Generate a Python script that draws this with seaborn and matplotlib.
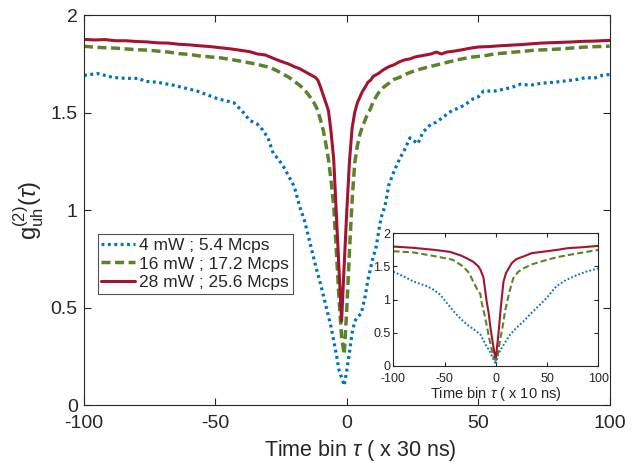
import matplotlib
matplotlib.use("Agg")
import matplotlib.pyplot as plt
import seaborn as sns

sns.set_theme(style="white")
plt.rcParams['font.family'] = ['Liberation Sans', 'DejaVu Sans']
plt.rcParams['mathtext.fontset'] = 'custom'
plt.rcParams['mathtext.rm'] = 'Liberation Sans'
plt.rcParams['mathtext.it'] = 'Liberation Sans:italic'

# ---- main data (time bin x 30 ns) ----
red_x = [-100, -96, -92, -88, -84, -80, -76, -72, -68, -64, -60, -56, -52, -48, -44, -40, -37, -34, -31, -28,
         -25, -22, -20, -18, -16, -14, -12, -11, -10, -9, -8, -7, -6, -5, -4, -3, -2, -1, 0, 1,
         2, 3, 4, 5, 6, 7, 8, 9, 10, 12, 14, 16, 18, 20, 22, 24, 26, 28, 30, 32,
         34, 36, 38, 41, 44, 47, 50, 54, 58, 62, 66, 70, 74, 78, 82, 86, 90, 94, 97, 100]
red_y = [1.875, 1.872, 1.874, 1.868, 1.868, 1.864, 1.862, 1.857, 1.856, 1.850, 1.847, 1.842, 1.838, 1.832, 1.826, 1.818, 1.812, 1.80, 1.795, 1.778,
         1.762, 1.748, 1.735, 1.725, 1.71, 1.695, 1.68, 1.665, 1.63, 1.59, 1.55, 1.51, 1.40, 1.26, 0.98, 0.70, 0.43, 0.72, 1.0, 1.25,
         1.42, 1.50, 1.55, 1.58, 1.61, 1.63, 1.655, 1.665, 1.685, 1.70, 1.72, 1.735, 1.745, 1.76, 1.77, 1.775, 1.785, 1.79, 1.795, 1.80,
         1.81, 1.80, 1.81, 1.815, 1.822, 1.83, 1.836, 1.838, 1.842, 1.845, 1.848, 1.852, 1.856, 1.858, 1.860, 1.862, 1.865, 1.866, 1.868, 1.87]

green_x = [-100, -96, -92, -88, -84, -80, -76, -72, -68, -64, -60, -56, -52, -48, -44, -40, -36, -32, -29, -26,
           -24, -22, -20, -18, -16, -14, -12.5, -11, -10, -9, -8, -7, -6, -5, -4, -3, -2, -1, 0, 1,
           2, 3, 4, 5, 6, 7.5, 9, 10, 12, 14, 16, 18, 20, 23, 26, 30, 33, 36, 39, 42,
           45, 48, 52, 56, 60, 64, 68, 72, 76, 80, 85, 90, 95, 100]
green_y = [1.84, 1.835, 1.832, 1.83, 1.826, 1.822, 1.82, 1.815, 1.81, 1.802, 1.798, 1.79, 1.785, 1.78, 1.772, 1.762, 1.752, 1.74, 1.73, 1.71,
           1.695, 1.68, 1.66, 1.64, 1.615, 1.58, 1.55, 1.51, 1.46, 1.41, 1.34, 1.26, 1.15, 1.02, 0.79, 0.55, 0.35, 0.26, 0.50, 0.79,
           1.05, 1.24, 1.33, 1.39, 1.43, 1.48, 1.52, 1.555, 1.60, 1.63, 1.65, 1.67, 1.68, 1.70, 1.715, 1.73, 1.74, 1.75, 1.76, 1.77,
           1.778, 1.785, 1.79, 1.80, 1.805, 1.81, 1.815, 1.82, 1.822, 1.825, 1.83, 1.835, 1.838, 1.84]

blue_x = [-100, -95, -89, -84, -79, -77, -72, -70, -66, -63, -60, -57, -53, -49, -46, -43, -40, -37, -34, -32,
          -30, -28, -26, -24, -22, -20, -18, -16, -14, -12, -10, -8, -6, -4, -3, -1, 0, 1, 2, 3,
          4, 5.5, 7, 8, 10, 11, 13, 14.5, 16, 18, 20, 22, 24, 26, 27, 29, 32, 34, 37, 40,
          42, 45, 48, 50, 52, 56, 60, 63, 66, 70, 74, 79, 82, 85, 88, 91, 94, 97, 100]
blue_y = [1.69, 1.70, 1.68, 1.675, 1.675, 1.66, 1.655, 1.65, 1.64, 1.63, 1.62, 1.61, 1.59, 1.57, 1.56, 1.55, 1.51, 1.46, 1.44, 1.41,
          1.37, 1.29, 1.26, 1.22, 1.17, 1.12, 1.02, 0.94, 0.83, 0.72, 0.62, 0.51, 0.40, 0.26, 0.18, 0.10, 0.18, 0.27, 0.37, 0.43,
          0.45, 0.47, 0.56, 0.64, 0.76, 0.80, 0.96, 1.02, 1.13, 1.20, 1.26, 1.31, 1.37, 1.35, 1.34, 1.40, 1.44, 1.45, 1.48, 1.51,
          1.52, 1.54, 1.57, 1.58, 1.61, 1.61, 1.62, 1.63, 1.645, 1.64, 1.65, 1.655, 1.66, 1.665, 1.67, 1.68, 1.675, 1.69, 1.695]

# ---- inset data (time bin x 10 ns) ----
ired_x = [-100, -80, -60, -45, -35, -28, -22, -17, -15, -12, -9, -7, -5, -3, -1, 0, 1, 2.5, 5, 7.5,
          10, 15.6, 20, 27, 35, 50, 60, 70, 85, 100]
ired_y = [1.80, 1.78, 1.75, 1.72, 1.67, 1.62, 1.57, 1.50, 1.45, 1.33, 0.98, 0.80, 0.55, 0.35, 0.16, 0.12, 0.25, 0.47, 0.90, 1.27,
          1.40, 1.55, 1.61, 1.65, 1.70, 1.73, 1.75, 1.775, 1.79, 1.81]

igreen_x = [-100, -80, -58, -42, -32, -26, -22, -18, -15, -14, -11, -9, -6, -4, -2, 0, 2, 4, 7, 9,
            13, 17, 22, 27, 35, 50, 60, 70, 85, 100]
igreen_y = [1.73, 1.71, 1.65, 1.60, 1.50, 1.40, 1.27, 1.15, 1.08, 0.97, 0.77, 0.62, 0.38, 0.25, 0.12, 0.08, 0.18, 0.37, 0.62, 0.82,
            1.10, 1.32, 1.42, 1.47, 1.53, 1.60, 1.64, 1.67, 1.71, 1.75]

iblue_x = [-100, -90, -80, -67, -60, -54, -48, -41, -35, -28, -19, -15, -10, -6, -3, 0, 2, 4, 9, 14,
           20, 27, 35, 43, 50, 59, 67, 76, 88, 100]
iblue_y = [1.42, 1.35, 1.27, 1.20, 1.14, 1.07, 0.95, 0.82, 0.72, 0.62, 0.52, 0.47, 0.32, 0.22, 0.12, 0.02, 0.15, 0.22, 0.35, 0.47,
           0.57, 0.67, 0.80, 0.92, 1.03, 1.20, 1.28, 1.35, 1.42, 1.47]

labels = ['4 mW ; 5.4 Mcps', '16 mW ; 17.2 Mcps', '28 mW ; 25.6 Mcps']
ticks_x = [-100, -50, 0, 50, 100]
ticks_y = [0, 0.5, 1, 1.5, 2]
tick_labels_y = ['0', '0.5', '1', '1.5', '2']

C_BLUE = '#0072BD'
C_GREEN = '#5B832C'
C_RED = '#A2142F'
C_AX = '#262626'

DOT = (0, (0.9, 1.1))
DASH = (0, (2.6, 1.3))

fig = plt.figure(figsize=(6.36, 4.62), dpi=100)
ax = fig.add_axes([84/636, 57/462, 525.7/636, 390/462])

sns.lineplot(x=blue_x, y=blue_y, ax=ax, color=C_BLUE, lw=2.3, linestyle=DOT,
             label=labels[0], sort=False)
sns.lineplot(x=green_x, y=green_y, ax=ax, color=C_GREEN, lw=2.5, linestyle=DASH,
             label=labels[1], sort=False)
sns.lineplot(x=red_x, y=red_y, ax=ax, color=C_RED, lw=2.2, linestyle='-',
             label=labels[2], sort=False)

def style_axes(a, fs, ticklen, xpad, ypad):
    a.set_facecolor('white')
    for s in a.spines.values():
        s.set_color(C_AX)
        s.set_linewidth(0.8)
        s.set_visible(True)
    a.tick_params(axis='both', direction='in', length=ticklen, width=0.8, colors=C_AX,
                  labelsize=fs, top=True, right=True, bottom=True, left=True)
    a.tick_params(axis='x', pad=xpad)
    a.tick_params(axis='y', pad=ypad)

ax.set_xlim(-100, 100)
ax.set_ylim(0, 2)
ax.set_xticks(ticks_x)
ax.set_xticklabels([str(t) for t in ticks_x])
ax.set_yticks(ticks_y)
ax.set_yticklabels(tick_labels_y)
style_axes(ax, 14, 5, 7, 4.5)
ax.set_xlabel(r'Time bin $\tau$ ( x 30 ns)', fontsize=15.5, color=C_AX)
ax.xaxis.set_label_coords(0.525, -0.085)
ax.set_ylabel(r'$\mathregular{g}_{\mathregular{uh}}^{(2)}(\tau)$', fontsize=17, color=C_AX)
ax.yaxis.set_label_coords(-0.072, 0.50)

leg = ax.legend(loc='upper left', bbox_to_anchor=(13.7/525.7, 1 - (234.3-15)/390),
                fontsize=12.5, frameon=True, fancybox=False, borderpad=0.2, labelspacing=0.2,
                handlelength=1.95, handletextpad=0.25, borderaxespad=0)
leg.get_frame().set_edgecolor(C_AX)
leg.get_frame().set_linewidth(0.8)

# inset
ins = fig.add_axes([393.3/636, (462-365.7)/462, 205/636, 132.4/462])
sns.lineplot(x=iblue_x, y=iblue_y, ax=ins, color=C_BLUE, lw=1.4, linestyle=DOT, sort=False)
sns.lineplot(x=igreen_x, y=igreen_y, ax=ins, color=C_GREEN, lw=1.5, linestyle=(0, (3, 1.5)), sort=False)
sns.lineplot(x=ired_x, y=ired_y, ax=ins, color=C_RED, lw=1.5, linestyle='-', sort=False)
ins.set_xlim(-100, 100)
ins.set_ylim(0, 2)
ins.set_xticks(ticks_x)
ins.set_xticklabels([str(t) for t in ticks_x])
ins.set_yticks(ticks_y)
ins.set_yticklabels(tick_labels_y)
style_axes(ins, 9, 3, 5, 2)
ins.set_xlabel(r'Time bin $\tau$ ( x 10 ns)', fontsize=10.5, color=C_AX, labelpad=0.5)
ins.set_ylabel('')

fig.savefig('out.png', dpi=100)
